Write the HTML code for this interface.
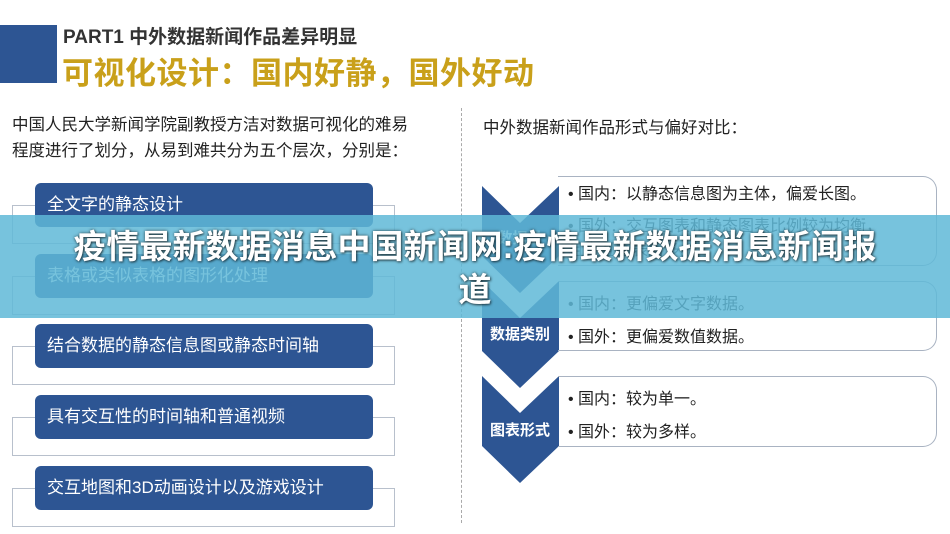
<!DOCTYPE html>
<html><head><meta charset="utf-8"><style>
body{margin:0;width:950px;height:534px;background:#fff;position:relative;overflow:hidden;font-family:"Liberation Sans","Noto Sans CJK SC",sans-serif;}
.a{position:absolute;}
.lb{position:absolute;left:35px;width:338px;height:44px;background:#2d5593;border-radius:6px;color:#fff;font-size:17px;line-height:44px;padding-left:12px;box-sizing:border-box;}
.br{position:absolute;left:12px;width:383px;height:39px;border:1px solid #b8c0cc;box-sizing:border-box;}
.rb{position:absolute;left:558px;width:379px;border:1.5px solid #a9b3c2;border-left:none;border-radius:0 14px 14px 0;box-sizing:border-box;font-size:16px;color:#222;}
.rb div{position:absolute;left:10px;}
</style></head><body>
<div class="a" style="left:0;top:25px;width:57px;height:58px;background:#2d5593"></div>
<div class="a" style="left:63px;top:22px;font-size:19px;font-weight:bold;color:#333;">PART1 中外数据新闻作品差异明显</div>
<div class="a" style="left:62px;top:48px;font-size:31px;font-weight:bold;color:#c9a01a;letter-spacing:0.5px;">可视化设计：国内好静，国外好动</div>
<div class="a" style="left:12px;top:112px;font-size:16.5px;color:#222;line-height:26px;">中国人民大学新闻学院副教授方洁对数据可视化的难易<br>程度进行了划分，从易到难共分为五个层次，分别是：</div>
<div class="a" style="left:461px;top:108px;height:415px;border-left:1px dashed #aaa"></div>
<div class="a" style="left:483px;top:114px;font-size:16.5px;color:#222;">中外数据新闻作品形式与偏好对比：</div>

<div class="br" style="top:205px"></div><div class="br" style="top:276px"></div><div class="br" style="top:346px"></div><div class="br" style="top:417px"></div><div class="br" style="top:488px"></div>
<div class="lb" style="top:183px">全文字的静态设计</div>
<div class="lb" style="top:254px">表格或类似表格的图形化处理</div>
<div class="lb" style="top:324px">结合数据的静态信息图或静态时间轴</div>
<div class="lb" style="top:395px">具有交互性的时间轴和普通视频</div>
<div class="lb" style="top:466px">交互地图和3D动画设计以及游戏设计</div>

<svg class="a" style="left:0;top:0" width="950" height="534">
<g fill="#2d5593">
<polygon points="482,186 520,223 559,186 559,256 520,293 482,256"/>
<polygon points="482,281 520,318 559,281 559,351 520,388 482,351"/>
<polygon points="482,376 520,413 559,376 559,446 520,483 482,446"/>
</g>
<g fill="#fff" font-size="15" font-weight="bold" font-family="Liberation Sans,Noto Sans CJK SC,sans-serif" text-anchor="middle">
<text x="520" y="243">数据量</text>
<text x="520" y="339">数据类别</text>
<text x="520" y="435">图表形式</text>
</g>
</svg>
<div class="rb" style="top:176px;height:90px"><div style="top:3px">• 国内：以静态信息图为主体，偏爱长图。</div><div style="top:35px">• 国外：交互图表和静态图表比例较为均衡，</div><div style="top:59px">且交互图表居多。</div></div>
<div class="rb" style="top:281px;height:70px"><div style="top:8px">• 国内：更偏爱文字数据。</div><div style="top:41px">• 国外：更偏爱数值数据。</div></div>
<div class="rb" style="top:376px;height:71px"><div style="top:8px">• 国内：较为单一。</div><div style="top:41px">• 国外：较为多样。</div></div>

<div class="a" style="left:0;top:215px;width:950px;height:103px;background:rgba(95,185,215,0.85)"></div>
<div class="a" style="left:60px;top:225px;width:830px;text-align:center;color:#fff;font-size:33px;font-weight:bold;line-height:43px;text-shadow:0 0 3px rgba(0,0,0,0.6),1px 1px 2px rgba(0,0,0,0.5);">疫情最新数据消息中国新闻网:疫情最新数据消息新闻报道</div>
</body></html>
